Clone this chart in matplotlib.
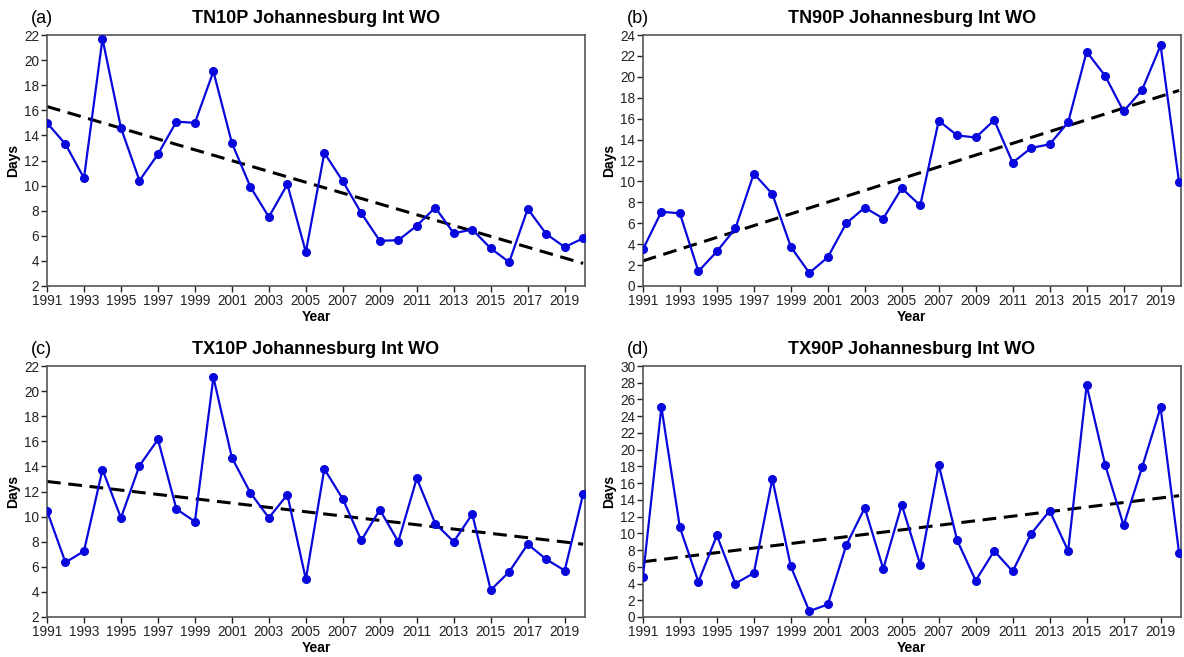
import numpy as np
import matplotlib
matplotlib.use("Agg")
import matplotlib.pyplot as plt

plt.rcParams['font.family'] = ['Liberation Sans', 'DejaVu Sans']

years = list(range(1991, 2021))

tn10p = [15.0, 13.3, 10.6, 21.7, 14.6, 10.4, 12.5, 15.1, 15.0, 19.1,
         13.4, 9.9, 7.5, 10.1, 4.7, 12.6, 10.35, 7.8, 5.6, 5.65,
         6.8, 8.25, 6.2, 6.5, 5.0, 3.9, 8.15, 6.15, 5.1, 5.8]
tn90p = [3.5, 7.1, 6.95, 1.4, 3.3, 5.5, 10.75, 8.8, 3.75, 1.25,
         2.75, 6.0, 7.5, 6.45, 9.35, 7.7, 15.8, 14.4, 14.2, 15.85,
         11.8, 13.2, 13.55, 15.65, 22.4, 20.1, 16.7, 18.75, 23.0, 9.9]
tx10p = [10.45, 6.35, 7.25, 13.75, 9.9, 14.05, 16.15, 10.6, 9.6, 21.1,
         14.7, 11.9, 9.9, 11.75, 5.0, 13.8, 11.4, 8.1, 10.55, 8.0,
         13.05, 9.45, 8.0, 10.2, 4.15, 5.6, 7.8, 6.6, 5.7, 11.8]
tx90p = [4.8, 25.1, 10.7, 4.2, 9.75, 4.0, 5.25, 16.5, 6.05, 0.7,
         1.5, 8.6, 13.05, 5.75, 13.4, 6.25, 18.2, 9.15, 4.35, 7.9,
         5.45, 9.95, 12.7, 7.9, 27.7, 18.2, 10.95, 17.9, 25.05, 7.65]

# trend line ends (1991, 2020)
trends = {
    'a': [16.3, 3.8],
    'b': [2.4, 18.7],
    'c': [12.8, 7.8],
    'd': [6.6, 14.5],
}

panels = [
    ('a', 'TN10P Johannesburg Int WO', tn10p, (2, 22), [0.0397, 0.5647, 0.4544, 0.382]),
    ('b', 'TN90P Johannesburg Int WO', tn90p, (0, 24), [0.543, 0.5647, 0.4544, 0.382]),
    ('c', 'TX10P Johannesburg Int WO', tx10p, (2, 22), [0.0397, 0.0609, 0.4544, 0.382]),
    ('d', 'TX90P Johannesburg Int WO', tx90p, (0, 30), [0.543, 0.0609, 0.4544, 0.382]),
]

fig = plt.figure(figsize=(11.84, 6.57), dpi=100)

for key, title, vals, ylim, pos in panels:
    ax = fig.add_axes(pos)
    ax.plot(years, vals, color='#0808dc', lw=1.6, marker='o', ms=5.5, zorder=3)
    ax.plot([1991, 2020], trends[key], color='black', ls=(0, (4.5, 2.5)), lw=2.2, zorder=2)
    ax.set_xlim(1991, 2020.1)
    ax.set_ylim(*ylim)
    ax.set_xticks(range(1991, 2020, 2))
    ax.set_yticks(range(ylim[0], ylim[1] + 1, 2))
    ax.tick_params(direction='out', length=4, width=1, labelsize=9.8, pad=1.5, colors='#222222')
    for s in ax.spines.values():
        s.set_color('#555555')
        s.set_linewidth(1.2)
    ax.set_title(title, fontsize=13, fontweight='bold', pad=9)
    ax.set_xlabel('Year', fontsize=10, fontweight='bold', labelpad=2)
    ax.set_ylabel('Days', fontsize=10, fontweight='bold', labelpad=3)
    ax.text(-0.03, 1.03, '(%s)' % key, transform=ax.transAxes, fontsize=13, ha='left', va='bottom')

fig.savefig('out.png', dpi=100)
